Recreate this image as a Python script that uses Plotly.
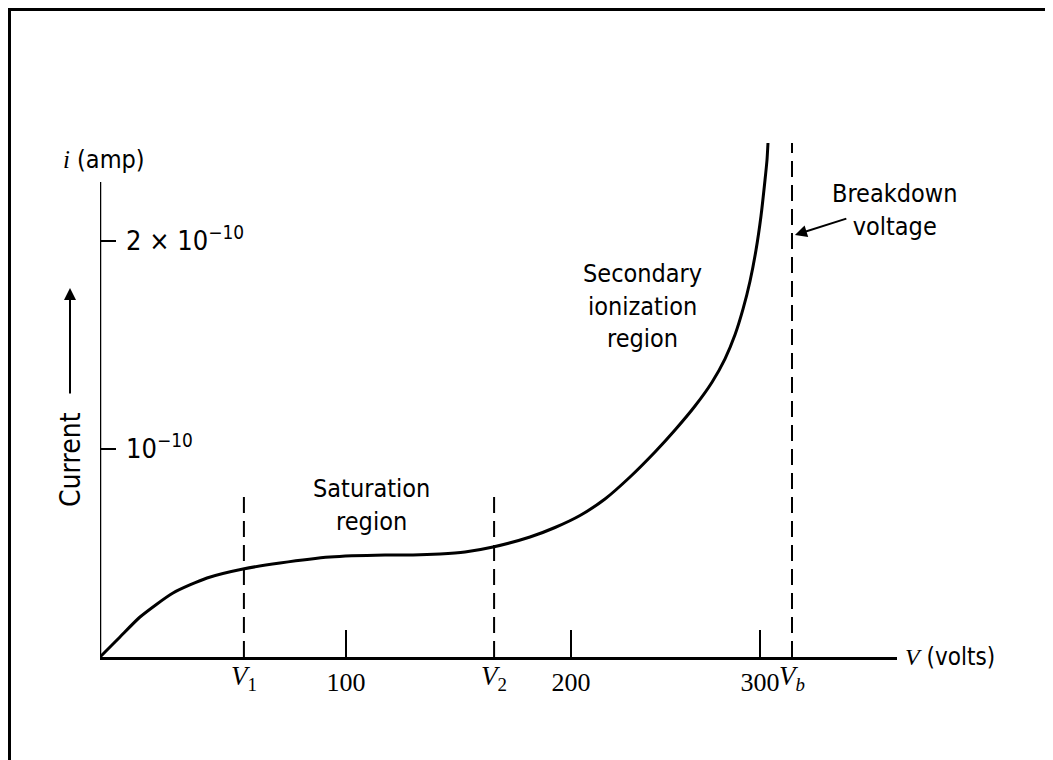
import plotly.graph_objects as go

# ---- data (sketch units: x in "volts" along the drawn axis, y in units of 1e-10 A) ----
curve_v = [0, 2.85, 8.13, 16.26, 29.67, 43.50, 58.13, 73.17, 93.50, 115.85, 127.24, 138.21,
           148.37, 159.76, 174.80, 184.96, 195.12, 205.28, 215.45, 225.61, 233.74, 241.87,
           248.78, 254.07, 258.13, 261.38, 264.23, 266.67, 268.70, 270.33, 271.14, 271.54]
curve_i = [0, 0.0337, 0.0962, 0.1923, 0.3077, 0.3798, 0.4231, 0.4519, 0.4808, 0.4904, 0.4904,
           0.4952, 0.5048, 0.5288, 0.5769, 0.6226, 0.6803, 0.7596, 0.8654, 0.9856, 1.0913,
           1.2067, 1.3212, 1.4337, 1.5490, 1.6721, 1.8067, 1.9567, 2.1202, 2.2933, 2.3894,
           2.4712]

x_tick_pos = [100, 191.5, 268.3]
x_tick_text = ["100", "200", "300"]
v_mark_pos = [58.5, 160.2, 281.3]
v_mark_text = ["<i>V</i><sub>1</sub>", "<i>V</i><sub>2</sub>", "<i>V<sub>b</sub></i>"]
v_mark_top = [0.79, 0.79, 2.471]
y_tick_pos = [1, 2]
y_tick_text = ["10<sup>\u221210</sup>", "2 \u00d7 10<sup>\u221210</sup>"]
y_axis_top = 2.284

W, H = 1053, 760
OFF = 8  # page body margin offset
SANS = "Liberation Sans Narrow, DejaVu Sans Condensed, Liberation Sans, Arial, sans-serif"
SERIF = "Liberation Serif, DejaVu Serif, Times New Roman, serif"

def px(x):
    return (x - OFF) / W

def py(y):
    return 1 - (y - OFF) / H

fig = go.Figure()
fig.add_trace(go.Scatter(x=curve_v, y=curve_i, mode="lines",
                         line=dict(color="black", width=3, shape="spline", smoothing=0.6),
                         hoverinfo="skip", showlegend=False))
# invisible trace to activate x2
fig.add_trace(go.Scatter(x=v_mark_pos, y=[0, 0, 0], xaxis="x2", mode="markers",
                         marker=dict(opacity=0), hoverinfo="skip", showlegend=False))

shapes = []
# y axis line
shapes.append(dict(type="line", xref="x", yref="y", x0=0, x1=0, y0=0, y1=y_axis_top,
                   line=dict(color="black", width=2.5)))
# dashed markers V1, V2, Vb
for xv, top in zip(v_mark_pos, v_mark_top):
    shapes.append(dict(type="line", xref="x", yref="y", x0=xv, x1=xv, y0=0, y1=top,
                       line=dict(color="black", width=2, dash="16px,8px")))
# outer border
shapes.append(dict(type="rect", xref="paper", yref="paper", x0=1.5 / W, x1=1.02,
                   y0=-0.02, y1=1 - 1.5 / H, line=dict(color="black", width=3)))

annotations = [
    dict(text="Saturation<br>region", x=110.2, y=0.731, xref="x", yref="y", showarrow=False,
         font=dict(family=SANS, size=25, color="black")),
    dict(text="Secondary<br>ionization<br>region", x=220.7, y=1.688, xref="x", yref="y",
         showarrow=False, font=dict(family=SANS, size=25, color="black")),
    dict(text="Breakdown<br>voltage", x=323, y=2.149, xref="x", yref="y", showarrow=False,
         font=dict(family=SANS, size=25, color="black")),
    dict(text="", x=282.5, y=2.029, ax=304, ay=2.11, xref="x", yref="y", axref="x", ayref="y",
         showarrow=True, arrowhead=2, arrowsize=1.2, arrowwidth=2, arrowcolor="black"),
    dict(text="<span style='font-family:Liberation Serif'><i>i</i></span> (amp)",
         x=px(104), y=py(160), xref="paper", yref="paper", xanchor="center", yanchor="middle",
         showarrow=False, font=dict(family=SANS, size=25, color="black")),
    dict(text="Current", x=px(71), y=py(460), xref="paper", yref="paper", xanchor="center",
         yanchor="middle", showarrow=False, textangle=-90,
         font=dict(family=SANS, size=28, color="black")),
    dict(text="", x=px(70), y=py(288), ax=0, ay=107, xref="paper", yref="paper",
         axref="pixel", ayref="pixel", showarrow=True, arrowhead=2, arrowsize=1.2,
         arrowwidth=2, arrowcolor="black"),
    dict(text="<span style='font-family:Liberation Serif'><i>V</i></span> (volts)",
         x=px(903), y=py(657), xref="paper", yref="paper", xanchor="left", yanchor="middle",
         showarrow=False, font=dict(family=SANS, size=24, color="black")),
]
# y tick labels drawn right of the axis
for yv, yt in zip(y_tick_pos, y_tick_text):
    annotations.append(dict(text=yt, x=0, y=yv, xref="x", yref="y", xanchor="left",
                            yanchor="middle", xshift=24, yshift=3, showarrow=False,
                            font=dict(family=SANS, size=27, color="black")))

xr = [0, 797 / 2.46]
yr = [0, 557 / 208]
fig.update_layout(
    width=W, height=H, margin=dict(l=0, r=0, t=0, b=0),
    paper_bgcolor="white", plot_bgcolor="white",
    xaxis=dict(domain=[px(100), px(897)], range=xr, showgrid=False, zeroline=False,
               showline=True, linecolor="black", linewidth=3,
               tickvals=x_tick_pos, ticktext=x_tick_text, ticks="inside", ticklen=27,
               tickwidth=2, tickcolor="black",
               tickfont=dict(family=SERIF, size=26, color="black")),
    xaxis2=dict(overlaying="x", anchor="y", side="bottom", range=xr, showgrid=False,
                zeroline=False, showline=False, ticks="",
                tickvals=v_mark_pos, ticktext=v_mark_text,
                tickfont=dict(family=SERIF, size=27, color="black")),
    yaxis=dict(domain=[py(657), py(100)], range=yr, showgrid=False, zeroline=False,
               showline=False, tickvals=y_tick_pos, showticklabels=False,
               ticks="inside", ticklen=16, tickwidth=2, tickcolor="black"),
    shapes=shapes, annotations=annotations, showlegend=False,
)
fig.write_html("out.html")
